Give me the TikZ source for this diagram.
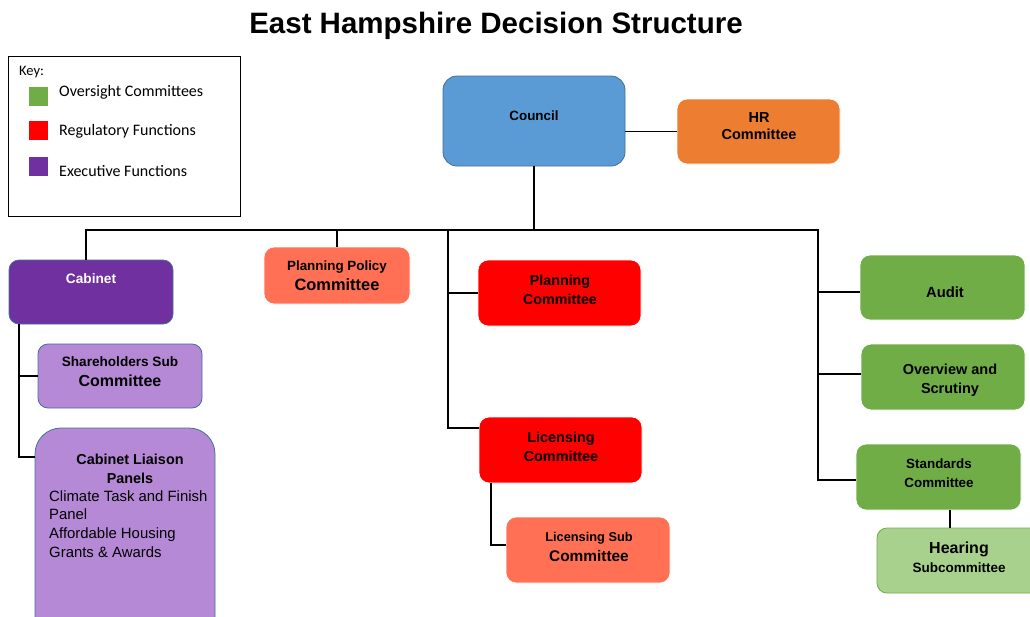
\documentclass[tikz,border=0pt]{standalone}
\usepackage{fontspec}
\setmainfont{Liberation Sans}
\newfontfamily\keyfont{Carlito}
\definecolor{cblue}{HTML}{5B9BD5}
\definecolor{cbluedark}{HTML}{41719C}
\definecolor{corange}{HTML}{ED7D31}
\definecolor{cpurple}{HTML}{7030A0}
\definecolor{clpurple}{HTML}{B589D6}
\definecolor{csalmon}{HTML}{FF7055}
\definecolor{cred}{HTML}{FF0000}
\definecolor{cgreen}{HTML}{70AD47}
\definecolor{clgreen}{HTML}{A9D18E}
\newcommand{\fs}[2]{\fontsize{#1}{#2}\selectfont}
\tikzset{
  box/.style={rounded corners=10pt, draw=white, line width=0.8pt, inner sep=0pt},
  bbox/.style={box, draw=cbluedark},
  lbl/.style={font=\bfseries\fs{14}{19}, align=center, inner sep=0pt},
  conn/.style={line width=1.6pt, black},
  keytxt/.style={font=\keyfont\fs{16}{18}, anchor=west, inner sep=0pt},
}
\begin{document}
\begin{tikzpicture}[x=1pt,y=-1pt]
\clip (0,0) rectangle (1030,616);
\fill[white] (0,0) rectangle (1030,616);
% title
\node[font=\bfseries\fs{29.5}{32}, inner sep=0pt] (title) at (496,26) {East Hampshire Decision Structure};
% key
\node[draw=black, line width=0.8pt, minimum width=232pt, minimum height=160pt, inner sep=0pt] (key) at (124,136) {};
\node[keytxt, font=\keyfont\fs{14.5}{16}] (keyh) at (19,72) {Key:};
\node[fill=cgreen, minimum size=19pt, inner sep=0pt] (kg) at (38,96) {};
\node[fill=cred, minimum size=19pt, inner sep=0pt] (kr) at (38,130) {};
\node[fill=cpurple, minimum size=19pt, inner sep=0pt] (kp) at (38,166) {};
\node[keytxt] (kgt) at (59,92) {Oversight Committees};
\node[keytxt] (krt) at (59,131) {Regulatory Functions};
\node[keytxt] (kpt) at (59,171) {Executive Functions};
% boxes
\node[bbox, fill=cblue, minimum width=182pt, minimum height=90pt, rounded corners=14pt] (council) at (534,121) {};
\node[lbl, font=\bfseries\fs{13.4}{16}] at (534,116) {Council};
\node[box, fill=corange, minimum width=163pt, minimum height=65pt] (hr) at (758.5,131.5) {};
\node[lbl, font=\bfseries\fs{14.5}{17}] at (759,126) {HR\\Committee};
\node[bbox, fill=cpurple, minimum width=164pt, minimum height=64pt] (cabinet) at (91,292) {};
\node[lbl, text=white, font=\bfseries\fs{13.7}{16}] at (91,279) {Cabinet};
\node[bbox, fill=clpurple, minimum width=164pt, minimum height=64pt] (share) at (120,376) {};
\node[lbl, font=\bfseries\fs{13.6}{20}] at (120,372) {Shareholders Sub\\{\fs{16}{17}Committee}};
\node[bbox, fill=clpurple, minimum width=180pt, minimum height=230pt, rounded corners=26pt] (liaison) at (125,543) {};
\node[lbl, font=\bfseries\fs{14.4}{19}] at (130,469) {Cabinet Liaison\\Panels};
\node[inner sep=0pt, align=left, anchor=north west, font=\fs{14.9}{18.7}] at (49,490) {Climate Task and Finish\\Panel\\Affordable Housing\\Grants \& Awards};
\node[box, fill=csalmon, minimum width=146pt, minimum height=57pt] (pp) at (337,275.5) {};
\node[lbl, font=\bfseries\fs{13.4}{20}] at (337,276) {Planning Policy\\{\fs{16.4}{17}Committee}};
\node[box, fill=cred, minimum width=163pt, minimum height=66pt] (planning) at (559.5,293) {};
\node[lbl, font=\bfseries\fs{14.3}{19}] at (560,289.5) {Planning\\Committee};
\node[box, fill=cred, minimum width=163pt, minimum height=66pt] (licensing) at (560.5,450) {};
\node[lbl, font=\bfseries\fs{14.4}{19}] at (561,446.5) {Licensing\\Committee};
\node[box, fill=csalmon, minimum width=164pt, minimum height=66pt] (licsub) at (588,550) {};
\node[lbl, font=\bfseries\fs{12.8}{20}] at (589,547) {Licensing Sub\\{\fs{15.4}{17}Committee}};
\node[box, fill=cgreen, minimum width=165pt, minimum height=65pt] (audit) at (942.5,287.5) {};
\node[lbl, font=\bfseries\fs{14.8}{17}] at (945,292) {Audit};
\node[box, fill=cgreen, minimum width=164pt, minimum height=66pt] (overview) at (943,377) {};
\node[lbl, font=\bfseries\fs{14.5}{19}] at (950,380) {Overview and\\Scrutiny};
\node[box, fill=cgreen, minimum width=165pt, minimum height=66pt] (standards) at (938.5,477) {};
\node[lbl, font=\bfseries\fs{13.4}{19}] at (939,473.5) {Standards\\Committee};
\node[box, fill=clgreen, draw=cgreen, minimum width=163pt, minimum height=65pt] (hearing) at (958.5,560.5) {};
\node[lbl, font=\bfseries\fs{13.5}{19}] at (959,557) {{\fs{16}{17}Hearing}\\Subcommittee};
% connectors
\coordinate (busL) at (86,230);
\coordinate (busR) at (818,230);
\coordinate (busC) at (534,230);
\draw[conn] (council.east |- hr.west) -- (hr.west);
\draw[conn] (council.south) -- (busC);
\draw[conn] (busL |- cabinet.north) -- (busL) -- (busR) -- (818,480) -- (standards.west |- 0,480);
\draw[conn] (pp.north) -- (337,230);
\draw[conn] (448,230) -- (448,428) -- (licensing.west |- 0,428);
\draw[conn] (448,293) -- (planning.west);
\draw[conn] (818,292) -- (audit.west |- 0,292);
\draw[conn] (818,374) -- (overview.west |- 0,374);
\draw[conn] (491,483) -- (491,545) -- (licsub.west |- 0,545);
\draw[conn] (950,510) -- (950,528);
\draw[conn] (19,324) -- (19,457) -- (liaison.west |- 0,457);
\draw[conn] (19,376) -- (share.west);
\end{tikzpicture}
\end{document}
